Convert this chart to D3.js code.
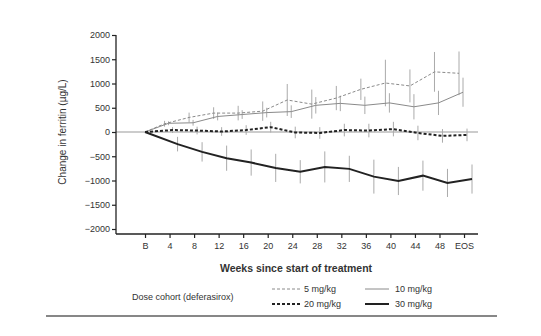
<!DOCTYPE html>
<html><head><meta charset="utf-8">
<script src="https://cdn.jsdelivr.net/npm/d3@7"></script>
<style>
body{margin:0;background:#fff;}
svg text{font-family:"Liberation Sans",Arial,sans-serif;fill:#333;}
</style></head>
<body><svg id="c" width="541" height="336"></svg>
<script>
const weeks = [0,4,8,12,16,20,24,28,32,36,40,44,48,52];
const tickLabels = ["B","4","8","12","16","20","24","28","32","36","40","44","48","EOS"];
const yTicks = [-2000,-1500,-1000,-500,0,500,1000,1500,2000];
const seriesNames = ["5 mg/kg","10 mg/kg","20 mg/kg","30 mg/kg"];
const dose5  = [0,170,300,390,390,430,660,575,700,880,1010,950,1240,1210];
const dose10 = [0,180,190,320,360,400,420,550,590,550,600,520,600,820];
const dose20 = [0,40,30,10,40,100,-10,-20,40,30,60,-20,-80,-60];
const dose30 = [0,-250,-410,-540,-630,-740,-820,-720,-760,-920,-1010,-900,-1050,-970];
const err5  = [0,60,100,120,150,200,330,300,250,220,480,340,410,450];
const err10 = [0,40,60,80,90,100,130,170,160,180,200,260,250,300];
const err20 = [0,60,80,90,100,110,120,120,130,140,150,150,140,130];
const err30 = [0,150,200,260,270,290,240,320,270,350,290,310,290,300];

const svg = d3.select("#c");
const x = d3.scaleLinear().domain([-4.73,54.28]).range([116,478]);
const y = d3.scaleLinear().domain([-2103,2000]).range([234,35]);

const styles = [
  {vals:dose5, err:err5, color:"#8a8a8a", w:1, dash:"3,2", off:-5},
  {vals:dose10, err:err10, color:"#8a8a8a", w:1, dash:null, off:-1},
  {vals:dose20, err:err20, color:"#222", w:2, dash:"3,2", off:3},
  {vals:dose30, err:err30, color:"#222", w:2, dash:null, off:8}
];

// zero reference line
svg.append("line").attr("x1",x.range()[0]).attr("x2",x.range()[1])
  .attr("y1",y(0)).attr("y2",y(0)).attr("stroke","#999").attr("stroke-width",1);

// error bars
styles.forEach(s=>{
  svg.append("g").selectAll("line").data(weeks.map((w,i)=>({w,v:s.vals[i],e:s.err[i]})).filter(d=>d.e>0))
    .join("line")
    .attr("x1",d=>x(d.w)+s.off).attr("x2",d=>x(d.w)+s.off)
    .attr("y1",d=>y(d.v+d.e)).attr("y2",d=>y(d.v-d.e))
    .attr("stroke","#aaa").attr("stroke-width",1);
});
// lines
styles.forEach(s=>{
  const line = d3.line().x((d,i)=>x(weeks[i])+(i===0?0:s.off)).y(d=>y(d));
  svg.append("path").datum(s.vals).attr("d",line).attr("fill","none")
    .attr("stroke",s.color).attr("stroke-width",s.w)
    .attr("stroke-dasharray",s.dash);
});

// axes
const yAxis = d3.axisLeft(y).tickValues(yTicks).tickSize(4).tickPadding(2).tickFormat(d3.format("d"));
const gy = svg.append("g").attr("transform","translate(116,0)").call(yAxis);
const xAxis = d3.axisBottom(x).tickValues(weeks).tickSize(4).tickPadding(5).tickFormat((d,i)=>tickLabels[i]);
const gx = svg.append("g").attr("transform","translate(0,234)").call(xAxis);
[gx,gy].forEach(g=>{
  g.select(".domain").attr("stroke","#222").attr("stroke-width",1.3);
  g.selectAll(".tick line").attr("stroke","#222").attr("stroke-width",1.2);
  g.selectAll("text").attr("font-size",9).attr("fill","#333")
   .style("font-family","'Liberation Sans',Arial,sans-serif");
});
// hide default outer ticks by replacing domain paths
gy.select(".domain").attr("d","M0,"+y.range()[0]+"V"+y.range()[1]);
gx.select(".domain").attr("d","M"+x.range()[0]+",0H"+x.range()[1]);

// titles
svg.append("text").attr("x",296).attr("y",272).attr("text-anchor","middle")
  .attr("font-size",10.5).attr("font-weight","bold").attr("fill","#444")
  .text("Weeks since start of treatment");
svg.append("text").attr("transform","translate(66,132) rotate(-90)").attr("text-anchor","middle")
  .attr("font-size",10).attr("fill","#333").text("Change in ferritin (µg/L)");

// legend
svg.append("text").attr("x",132).attr("y",300).attr("font-size",9).attr("fill","#444")
  .text("Dose cohort (deferasirox)");
const legPos = [[272,289],[365,289],[272,304],[365,304]];
styles.forEach((s,i)=>{
  const [lx,ly] = legPos[i];
  svg.append("line").attr("x1",lx).attr("x2",lx+(i%2?24:29)).attr("y1",ly).attr("y2",ly)
    .attr("stroke",s.color).attr("stroke-width",s.w).attr("stroke-dasharray",s.dash);
  svg.append("text").attr("x",lx+(i%2?30:32)).attr("y",ly+3).attr("font-size",9).attr("fill","#444")
    .text(seriesNames[i]);
});
// bottom rule
svg.append("line").attr("x1",46).attr("x2",497).attr("y1",316).attr("y2",316)
  .attr("stroke","#111").attr("stroke-width",1.2);
</script></body></html>
